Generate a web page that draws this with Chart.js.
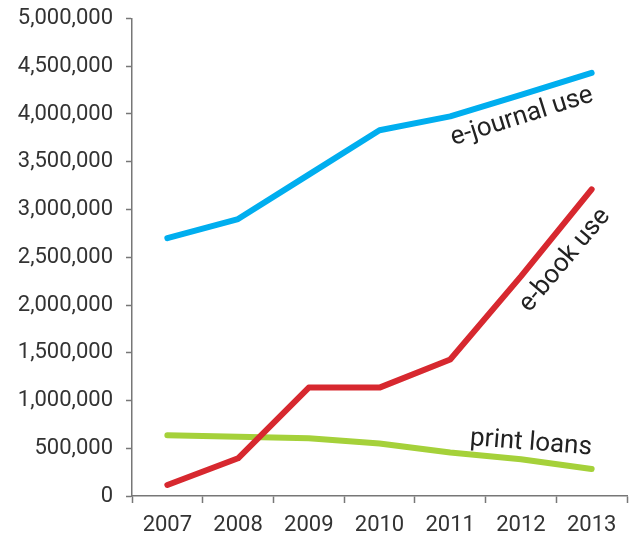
<!DOCTYPE html>
<html>
<head>
<meta charset="utf-8">
<script src="https://cdn.jsdelivr.net/npm/chart.js@4.4.1/dist/chart.umd.min.js"></script>
<style>
  html, body { margin: 0; padding: 0; background: #fff; }
  #wrap { width: 629px; height: 541px; position: relative; }
</style>
</head>
<body>
<div id="wrap"><canvas id="c"></canvas></div>
<script>
// Data
var YEARS = ['2007', '2008', '2009', '2010', '2011', '2012', '2013'];
var EJOURNAL = [2700000, 2900000, 3365000, 3830000, 3975000, 4200000, 4430000];
var EBOOK = [115000, 395000, 1135000, 1135000, 1430000, 2300000, 3210000];
var PRINT = [636000, 620000, 605000, 550000, 455000, 385000, 283000];
var Y_MIN = 0, Y_MAX = 5000000, Y_STEP = 500000;

var FONT = 'Roboto, "DejaVu Sans", sans-serif';

// curve labels, placed next to a given point of each series
var LABELS = [
  { text: 'e-journal use', ds: 0, idx: 5, dx: 1, dy: 22, rot: -17.5 },
  { text: 'e-book use', ds: 1, idx: 5, dx: 44, dy: -16, rot: -50 },
  { text: 'print loans', ds: 2, idx: 5, dx: 10, dy: -16, rot: 4.5 }
];

var curveLabels = {
  id: 'curveLabels',
  afterDatasetsDraw: function (chart) {
    var ctx = chart.ctx;
    var xs = chart.scales.x, ys = chart.scales.y;
    ctx.save();
    ctx.font = '26px ' + FONT;
    ctx.fillStyle = '#222';
    ctx.textAlign = 'center';
    ctx.textBaseline = 'middle';
    LABELS.forEach(function (l) {
      var v = chart.data.datasets[l.ds].data[l.idx];
      var x = xs.getPixelForValue(l.idx) + l.dx;
      var y = ys.getPixelForValue(v) + l.dy;
      ctx.save();
      ctx.translate(x, y);
      ctx.rotate(l.rot * Math.PI / 180);
      ctx.fillText(l.text, 0, 0);
      ctx.restore();
    });
    ctx.restore();
  }
};

function series(label, data, color) {
  return {
    label: label, data: data,
    borderColor: color, backgroundColor: color,
    borderWidth: 6, fill: false, tension: 0,
    borderCapStyle: 'round', borderJoinStyle: 'round',
    pointRadius: 0
  };
}

new Chart(document.getElementById('c'), {
  type: 'line',
  data: {
    labels: YEARS,
    datasets: [
      series('e-journal use', EJOURNAL, '#00aeef'),
      series('e-book use', EBOOK, '#d7282f'),
      series('print loans', PRINT, '#a5d13a')
    ]
  },
  options: {
    responsive: true,
    maintainAspectRatio: false,
    animation: false,
    layout: { padding: { top: 0, right: 2, left: 0, bottom: 2 } },
    plugins: { legend: { display: false }, tooltip: { enabled: false } },
    scales: {
      x: {
        offset: true,
        grid: { offset: true, drawOnChartArea: false, tickLength: 7, color: '#777', tickWidth: 1.5 },
        border: { color: '#777', width: 1.5 },
        ticks: { font: { family: FONT, size: 22 }, color: '#333', padding: 9, maxRotation: 0 },
        afterFit: function (s) { s.height = 43; }
      },
      y: {
        min: Y_MIN, max: Y_MAX,
        grid: { drawOnChartArea: false, tickLength: 6, color: '#777', tickWidth: 1.5 },
        border: { color: '#777', width: 1.5 },
        ticks: {
          stepSize: Y_STEP, font: { family: FONT, size: 22, lineHeight: 0.5 }, color: '#333', padding: 13,
          callback: function (v) { return v.toLocaleString('en-US'); }
        },
        afterFit: function (s) { s.width = 132; }
      }
    }
  },
  plugins: [curveLabels]
});
</script>
</body>
</html>
